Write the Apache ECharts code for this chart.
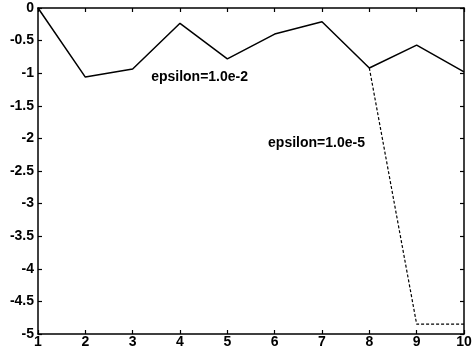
<!DOCTYPE html>
<html>
<head>
<meta charset="utf-8">
<script src="https://cdn.jsdelivr.net/npm/echarts@6/dist/echarts.min.js"></script>
<style>html,body{margin:0;padding:0;background:#fff}#c{width:475px;height:350px}</style>
</head>
<body>
<div id="c"></div>
<script>
var xCats = [1, 2, 3, 4, 5, 6, 7, 8, 9, 10];
var eps2 = [0, -1.06, -0.935, -0.235, -0.78, -0.40, -0.21, -0.92, -0.57, -0.98];
var eps5 = [null, null, null, null, null, null, null, -0.92, -4.85, -4.85];
var labelTexts = ['epsilon=1.0e-2', 'epsilon=1.0e-5'];
var labelX = [3.39, 5.86];
var labelY = [-1.06, -2.07];

var font = '"Liberation Sans", Arial, sans-serif';
var chart = echarts.init(document.getElementById('c'), null, {renderer: 'canvas'});
function pairs(vals) { return xCats.map(function (x, i) { return [x, vals[i]]; }); }
var tickStyle = {show: true, inside: true, length: 4, lineStyle: {color: '#000', width: 1.2}};
var lineStyle = {show: true, onZero: false, lineStyle: {color: '#000', width: 1.5}};
chart.setOption({
  animation: false,
  backgroundColor: '#fff',
  grid: {left: 38, right: 11, top: 8, bottom: 16},
  xAxis: [{
    type: 'value', min: 1, max: 10, interval: 1,
    axisLine: lineStyle, axisTick: tickStyle, splitLine: {show: false},
    axisLabel: {color: '#000', fontFamily: font, fontWeight: 'bold', fontSize: 14, margin: 1}
  }, {
    type: 'value', position: 'top', min: 1, max: 10, interval: 1,
    axisLine: lineStyle, axisTick: tickStyle, splitLine: {show: false}, axisLabel: {show: false}
  }],
  yAxis: [{
    type: 'value', min: -5, max: 0, interval: 0.5,
    axisLine: lineStyle, axisTick: tickStyle, splitLine: {show: false},
    axisLabel: {color: '#000', fontFamily: font, fontWeight: 'bold', fontSize: 14, margin: 4}
  }, {
    type: 'value', position: 'right', min: -5, max: 0, interval: 0.5,
    axisLine: lineStyle, axisTick: tickStyle, splitLine: {show: false}, axisLabel: {show: false}
  }],
  series: [{
    type: 'line', data: pairs(eps5), showSymbol: false, connectNulls: false,
    lineStyle: {color: '#000', width: 1.2, type: [3, 2]}, z: 2
  }, {
    type: 'line', data: pairs(eps2), showSymbol: false,
    lineStyle: {color: '#000', width: 1.5}, z: 3,
    markPoint: {
      symbolSize: 0,
      data: labelTexts.map(function (t, i) {
        return {coord: [labelX[i], labelY[i]], value: t,
          label: {show: true, formatter: t, position: 'right', distance: 0,
            color: '#000', fontFamily: font, fontWeight: 'bold', fontSize: 14}};
      })
    }
  }]
});
</script>
</body>
</html>
